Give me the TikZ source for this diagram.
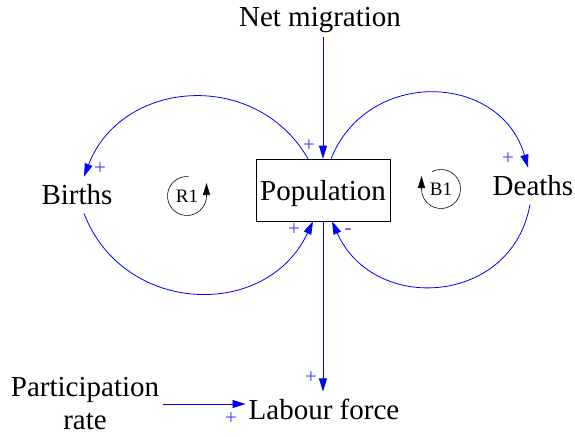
\documentclass[tikz,border=0pt]{standalone}
\usepackage{fontspec}
\setmainfont{Liberation Serif}
\usetikzlibrary{arrows.meta,positioning,calc}

\tikzset{
  var/.style={font=\fontsize{29}{33}\selectfont, inner sep=3.3pt},
  link/.style={draw=blue, line width=0.8pt, -{Triangle[length=13pt,width=8pt]}},
  polarity/.style={text=blue!75, font=\fontsize{21}{21}\selectfont, inner sep=0pt},
  loopname/.style={font=\fontsize{19}{19}\selectfont, inner sep=0pt},
  looparrow/.style={draw=black, line width=0.6pt, -{Triangle[length=12pt,width=7pt]}}
}

\begin{document}
\begin{tikzpicture}[x=1pt,y=1pt]
\useasboundingbox (0,0) rectangle (575,-436);

% ================= VARIABLES =================
\node[var, draw=black, line width=0.6pt, minimum width=134pt,
minimum height=62pt, text depth=0pt] (pop) at (323,-190) {Population};
\node[var] (netmig) at (320,-20.5) {Net migration};
\node[var, inner sep=8pt] (births) at (77,-195) {Births};
\node[var, inner sep=8pt] (deaths) at (533,-186) {Deaths};
\node[var, inner xsep=3pt, inner ysep=7pt] (labour) at (324,-409) {Labour force};
\node[var, align=center] (partic) at (85,-404) {Participation\\rate};

% ================= STRAIGHT LINKS =================
\draw[link] (netmig.south -| pop.north) -- (pop.north);
\draw[link] (pop.south) -- (pop.south |- labour.north);
\draw[link] (partic.east) -- (partic.east -| labour.west);

% ================= LOOP LINKS =================
% R1 (births)
\draw[link] ([xshift=-15pt]pop.north) to[out=120, in=69, looseness=1.19]
([xshift=7pt]births.north);
\draw[link] ([xshift=7pt]births.south) to[out=-69, in=-115, looseness=1.22]
([xshift=-10pt]pop.south);

% B1 (deaths)
\draw[link] ([xshift=8pt]pop.north) to[out=68, in=106, looseness=1.28]
([xshift=-5pt]deaths.north);
\draw[link] ([xshift=-3pt]deaths.south) to[out=-100, in=-66, looseness=1.32]
([xshift=9pt]pop.south);

% ================= POLARITIES =================
\node[polarity] (pnet) at (309,-146) {+};
\node[polarity] (pbirths) at (100,-169) {+};
\node[polarity] (pinflow) at (294,-230) {+};
\node[polarity] (pdeaths) at (508,-159) {+};
\node[polarity] (poutflow) at (348,-232) {-};
\node[polarity] (plabour) at (311,-378) {+};
\node[polarity] (ppartic) at (231,-419) {+};

% ================= LOOP MARKERS =================
\node[loopname] (r1) at (187,-196) {R1};
\draw[looparrow] ([shift={(85:19.5)}]r1.center)
arc[start angle=85, end angle=360, radius=19.5] -- ++(0,13);

\node[loopname] (b1) at (441,-189) {B1};
\draw[looparrow] ([shift={(117:19.5)}]b1.center)
arc[start angle=117, end angle=-180, radius=19.5] -- ++(0,13);

\end{tikzpicture}
\end{document}
